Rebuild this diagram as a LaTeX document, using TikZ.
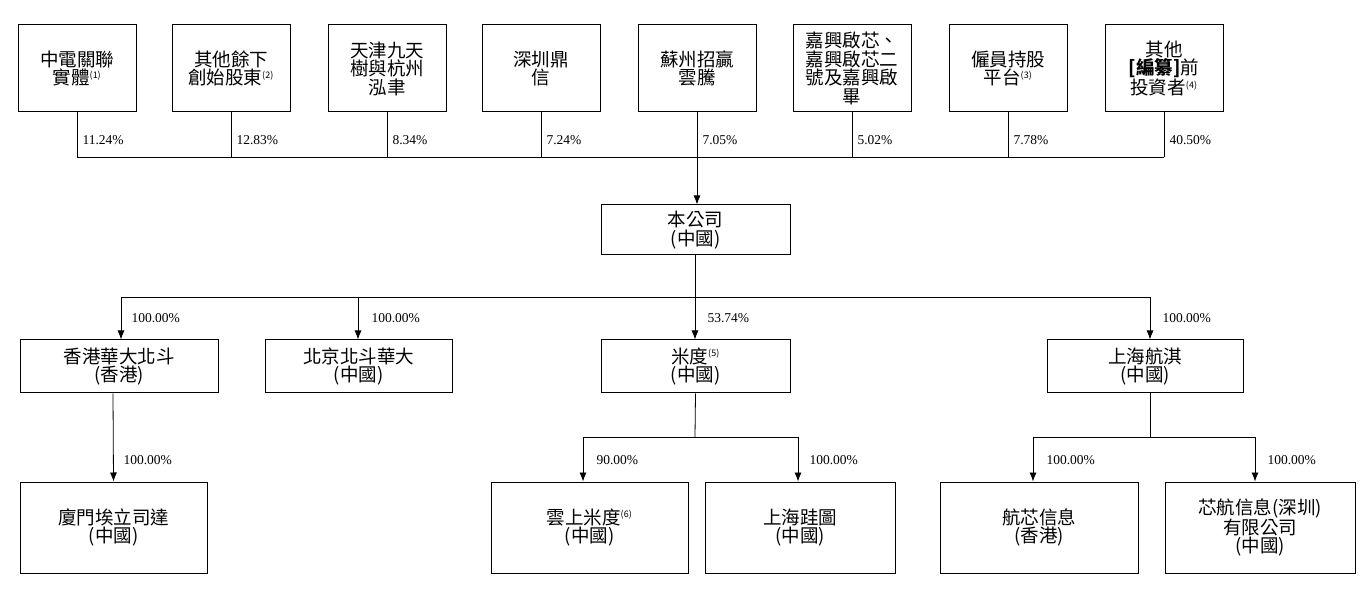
\documentclass[tikz,border=0pt]{standalone}
\usepackage{fontspec}
\usetikzlibrary{arrows.meta}
\setmainfont{Liberation Serif}
\newfontfamily\cjk{Noto Sans CJK TC}
\newcommand{\fnm}[1]{\textsuperscript{\fontsize{9}{9}\selectfont(#1)}}
\begin{document}
\begin{tikzpicture}[x=1pt,y=-1pt,
 box/.style={draw,line width=1pt,minimum width=#1,inner sep=0pt,align=center,font=\cjk\fontsize{18.5}{18.5}\selectfont},
 box/.default=118pt,
 pct/.style={font=\fontsize{13.5}{14}\selectfont,anchor=west},
 ln/.style={line width=0.8pt},
 arr/.style={ln,-{Latex[length=9pt,width=7pt]}}]
\useasboundingbox (0,0) rectangle (1368,593);
% top row
\foreach \n/\x/\t in {t1/77/{中電關聯\\實體\fnm{1}},t2/231/{其他餘下\\創始股東\fnm{2}},t3/387/{天津九天\\樹與杭州\\泓聿},t4/541/{深圳鼎\\信},t5/697/{蘇州招贏\\雲騰},t6/852/{嘉興啟芯、\\嘉興啟芯二\\號及嘉興啟\\畢},t7/1008/{僱員持股\\平台\fnm{3}},t8/1164/{其他\\\textbf{[編纂]}前\\投資者\fnm{4}}}
 {\node[box,minimum height=87pt] (\n) at (\x,68.5) {\t};}
\foreach \n/\p in {t1/11.24\%,t2/12.83\%,t3/8.34\%,t4/7.24\%,t5/7.05\%,t6/5.02\%,t7/7.78\%,t8/40.50\%}
 {\draw[ln] (\n.south) -- ++(0,45) coordinate (\n b);
  \node[pct] at ([xshift=2pt,yshift=17pt]\n b) {\p};}
\draw[ln] (t1b) -- (t8b);
\node[box=189pt,minimum height=50pt] (co) at (695.5,230) {本公司\\(中國)};
\draw[arr] (t5b) -- (t5b|-co.north);
\coordinate (j) at (695,297);
\draw[ln] (co.south-|j) -- (j);
\node[box=198pt,minimum height=53pt] (hk) at (119,366.5) {香港華大北斗\\(香港)};
\node[box=187pt,minimum height=53pt] (bj) at (358.5,366.5) {北京北斗華大\\(中國)};
\node[box=189pt,minimum height=53pt] (md) at (695.5,366.5) {米度\fnm{5}\\(中國)};
\node[box=196pt,minimum height=53pt] (sh) at (1145,366.5) {上海航淇\\(中國)};
\coordinate (jl) at (121,297); \coordinate (jb) at (358,297); \coordinate (jr) at (1150,297);
\draw[ln] (jl) -- (jr);
\draw[arr] (jl) -- (jl|-hk.north); \node[pct] at (128,318) {100.00\%};
\draw[arr] (jb) -- (jb|-bj.north); \node[pct] at (368,318) {100.00\%};
\draw[arr] (j) -- (j|-md.north); \node[pct] at (704,318) {53.74\%};
\draw[arr] (jr) -- (jr|-sh.north); \node[pct] at (1159,318) {100.00\%};
\foreach \n/\x/\w/\t in {xm/113.5/187/{廈門埃立司達\\(中國)},ys/589.5/197/{雲上米度\fnm{6}\\(中國)},sw/800/190/{上海跬圖\\(中國)},hx/1039/198/{航芯信息\\(香港)},xh/1260/190/{芯航信息(深圳)\\有限公司\\(中國)}}
 {\node[box=\w pt,minimum height=91pt] (\n) at (\x,527.5) {\t};}
\coordinate (hkx) at (113,0);
\draw[arr] (hk.south-|hkx) -- (xm.north); \node[pct] at (120,460) {100.00\%};
\coordinate (m1) at (583,437); \coordinate (m2) at (798,437);
\draw[ln] (md.south) -- (695,437); \draw[ln] (m1) -- (m2);
\draw[arr] (m1) -- (m1|-ys.north); \node[pct] at (593,460) {90.00\%};
\draw[arr] (m2) -- (m2|-sw.north); \node[pct] at (806,460) {100.00\%};
\coordinate (s1) at (1033,437); \coordinate (s2) at (1255,437); \coordinate (shx) at (1150,0);
\draw[ln] (sh.south-|shx) -- (1150,437); \draw[ln] (s1) -- (s2);
\draw[arr] (s1) -- (s1|-hx.north); \node[pct] at (1043,460) {100.00\%};
\draw[arr] (s2) -- (s2|-xh.north); \node[pct] at (1264,460) {100.00\%};
\end{tikzpicture}
\end{document}
